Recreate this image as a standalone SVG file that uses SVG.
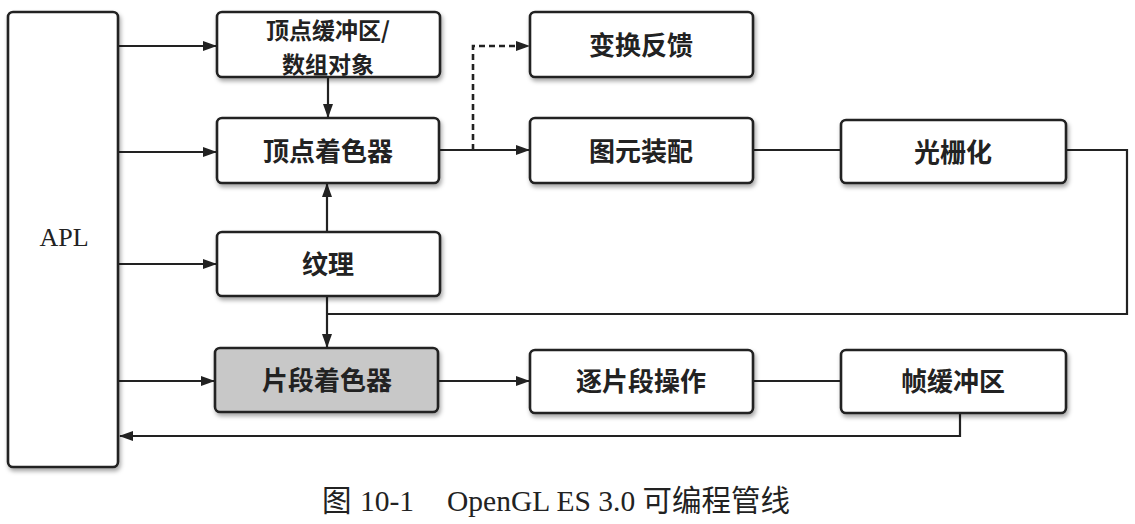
<svg xmlns="http://www.w3.org/2000/svg" width="1135" height="524" viewBox="0 0 1135 524">
<style>
.box{fill:#fff;stroke:#222;stroke-width:2.6;filter:url(#sh)}
.grey{fill:#c8c8c8}
.lbl{font-family:"Noto Sans CJK SC","Noto Sans",sans-serif;font-size:26px;font-weight:700;fill:#222;text-anchor:middle}
.lbl2{font-size:23px}
.apl{font-family:"Liberation Serif",serif;font-size:26px;fill:#222;text-anchor:middle}
.cap{font-family:"Liberation Serif","Noto Sans CJK SC",serif;font-size:29.5px;fill:#222}
.ln{fill:none;stroke:#222;stroke-width:2.2}
.dash{fill:none;stroke:#222;stroke-width:2.6;stroke-dasharray:6 4}
</style>
<defs>
<filter id="sh" x="-10%" y="-10%" width="125%" height="140%">
<feDropShadow dx="1.5" dy="3" stdDeviation="2" flood-color="#000" flood-opacity="0.35"/>
</filter>
<marker id="ar" viewBox="0 0 14 10" refX="13" refY="5" markerWidth="14" markerHeight="10" markerUnits="userSpaceOnUse" orient="auto">
<path d="M0,0 L14,5 L0,10 z" fill="#222"/>
</marker>
</defs>
<rect width="1135" height="524" fill="#fff"/>

<g id="connectors">
<path class="ln" d="M119,46 H216" marker-end="url(#ar)"/>
<path class="ln" d="M119,152 H216" marker-end="url(#ar)"/>
<path class="ln" d="M119,264 H216" marker-end="url(#ar)"/>
<path class="ln" d="M119,381 H214" marker-end="url(#ar)"/>
<path class="ln" d="M328,77 V117" marker-end="url(#ar)"/>
<path class="ln" d="M327,232 V184" marker-end="url(#ar)"/>
<path class="ln" d="M440,150 H529" marker-end="url(#ar)"/>
<path class="dash" d="M473,150 V46 H529" marker-end="url(#ar)"/>
<path class="ln" d="M753,150 H841"/>
<path class="ln" d="M1066,150 H1127 V314 H327"/>
<path class="ln" d="M327,296 V347" marker-end="url(#ar)"/>
<path class="ln" d="M438,381 H529" marker-end="url(#ar)"/>
<path class="ln" d="M753,381 H841"/>
<path class="ln" d="M960,413 V436 H120" marker-end="url(#ar)"/>
</g>

<g id="apl">
<rect class="box" x="8" y="12" width="110" height="455" rx="5"/>
<text class="apl" x="64" y="246">APL</text>
</g>
<g id="vbo">
<rect class="box" x="217" y="12" width="223" height="65" rx="5"/>
<text class="lbl lbl2" x="328" y="39">顶点缓冲区/</text>
<text class="lbl lbl2" x="328" y="73">数组对象</text>
</g>
<g id="vertex-shader">
<rect class="box" x="217" y="118" width="222" height="65" rx="5"/>
<text class="lbl" x="328" y="161">顶点着色器</text>
</g>
<g id="texture">
<rect class="box" x="217" y="232" width="223" height="64" rx="5"/>
<text class="lbl" x="328" y="274">纹理</text>
</g>
<g id="fragment-shader">
<rect class="box grey" x="215" y="348" width="223" height="64" rx="5"/>
<text class="lbl" x="327" y="390">片段着色器</text>
</g>
<g id="transform-feedback">
<rect class="box" x="530" y="12" width="223" height="65" rx="5"/>
<text class="lbl" x="641" y="55">变换反馈</text>
</g>
<g id="primitive-assembly">
<rect class="box" x="530" y="118" width="223" height="65" rx="5"/>
<text class="lbl" x="641" y="161">图元装配</text>
</g>
<g id="rasterization">
<rect class="box" x="841" y="120" width="225" height="63" rx="5"/>
<text class="lbl" x="953" y="162">光栅化</text>
</g>
<g id="per-fragment-ops">
<rect class="box" x="530" y="350" width="223" height="63" rx="5"/>
<text class="lbl" x="641" y="391">逐片段操作</text>
</g>
<g id="framebuffer">
<rect class="box" x="841" y="350" width="225" height="63" rx="5"/>
<text class="lbl" x="953" y="391">帧缓冲区</text>
</g>

<text class="cap" y="511"><tspan x="322">图</tspan><tspan x="360">10-1</tspan><tspan x="447">OpenGL ES 3.0 可编程管线</tspan></text>
</svg>
